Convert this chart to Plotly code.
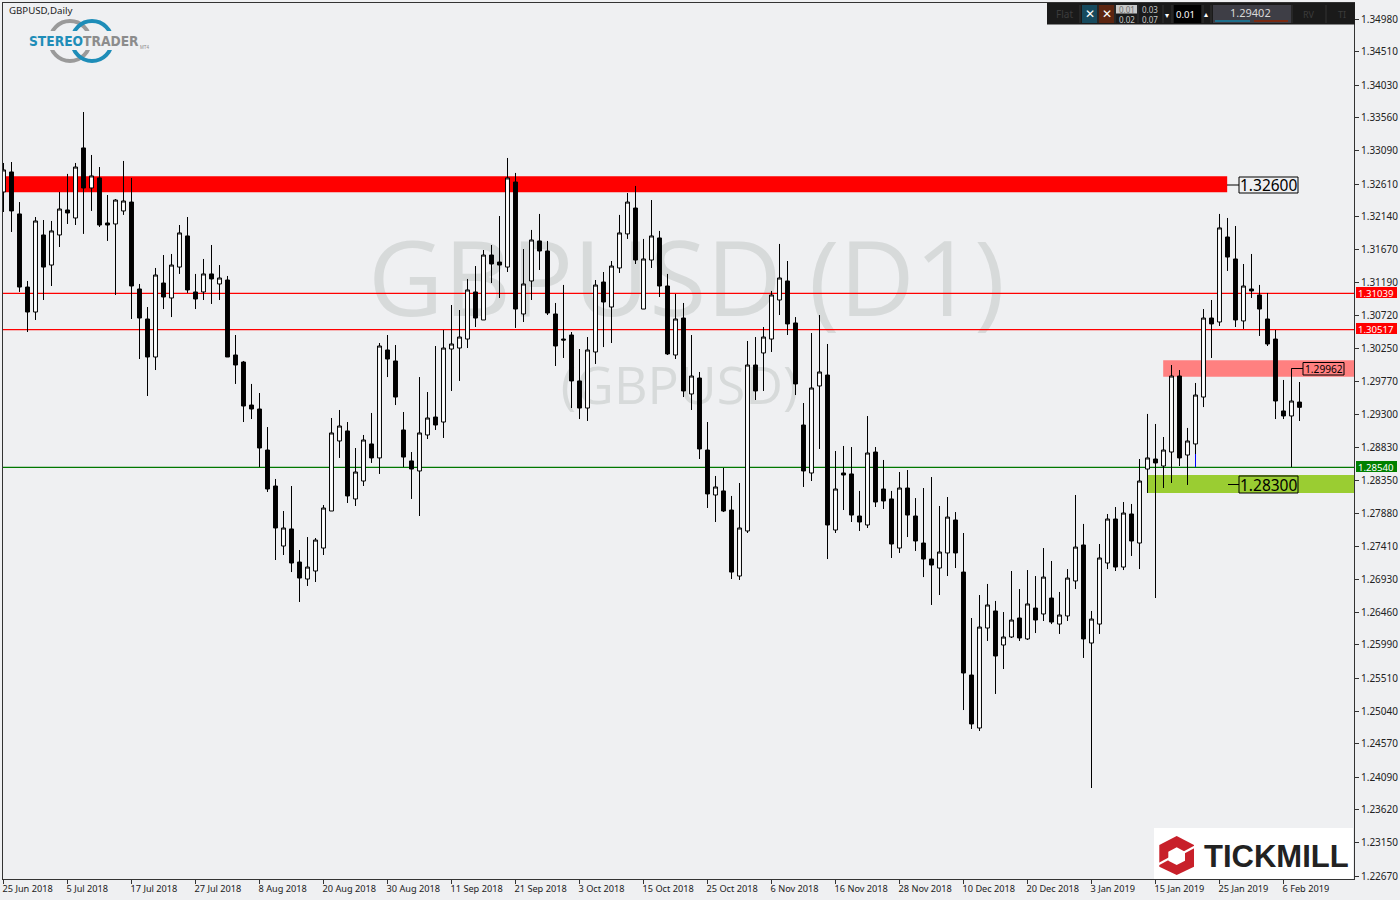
import plotly.graph_objects as go

opens = [1.32495,1.32783,1.32180,1.31130,1.30771,1.31878,1.31446,1.31878,1.32237,1.32122,
1.33128,1.32553,1.32697,1.32050,1.32036,1.32223,1.32351,1.31102,1.30671,1.30125,
1.31188,1.30973,1.31417,1.31864,1.31059,1.31059,1.31318,1.31174,1.31231,1.30154,
1.30053,1.29435,1.29378,1.28789,1.28272,1.27410,1.27655,1.27180,1.26936,1.27051,
1.27381,1.27913,1.28919,1.29063,1.28086,1.28344,1.28876,1.28675,1.30226,1.30068,
1.29077,1.28632,1.28488,1.29005,1.29263,1.29191,1.30240,1.30254,1.30383,1.31059,
1.30657,1.31590,1.31489,1.31417,1.32639,1.30743,1.31217,1.31792,1.31648,1.30743,
1.30383,1.30441,1.29781,1.29392,1.30197,1.31202,1.30843,1.31404,1.31893,1.32265,
1.30814,1.31518,1.31835,1.31145,1.30154,1.30685,1.29594,1.29823,1.28789,1.28143,
1.28201,1.27927,1.26979,1.27626,1.30010,1.30183,1.30383,1.30944,1.31217,1.30614,
1.29148,1.28459,1.29709,1.29866,1.27640,1.28459,1.28445,1.27841,1.27712,1.28760,
1.28229,1.28086,1.27381,1.28243,1.27841,1.27453,1.27223,1.27094,1.27310,1.27784,
1.27036,1.25557,1.24796,1.26232,1.26477,1.25988,1.26103,1.26376,1.26075,1.26519,
1.26434,1.26663,1.26289,1.26405,1.26908,1.27425,1.26017,1.26289,1.27166,1.27798,
1.27108,1.27870,1.27453,1.28516,1.28660,1.28559,1.28760,1.29852,1.28717,1.28876,
1.29550,1.30685,1.30628,1.31849,1.31533,1.30643,1.31102,1.31016,1.30671,1.30383,
1.29350,1.29278,1.29478]

highs = [1.32912,1.32926,1.32351,1.31217,1.32136,1.32093,1.32079,1.32495,1.32755,1.32912,
1.33644,1.33027,1.32854,1.32452,1.32394,1.32941,1.32697,1.31174,1.30843,1.31404,
1.31590,1.31605,1.32021,1.32136,1.31318,1.31533,1.31734,1.31446,1.31289,1.30441,
1.30068,1.29738,1.29608,1.29119,1.28373,1.27913,1.28272,1.27353,1.27539,1.27525,
1.27999,1.29249,1.29364,1.29191,1.28818,1.29005,1.29321,1.30326,1.30441,1.30297,
1.29335,1.28760,1.29837,1.29622,1.30283,1.30513,1.30872,1.30800,1.31246,1.31432,
1.31662,1.31734,1.32150,1.32984,1.32769,1.31676,1.31950,1.32180,1.31792,1.30901,
1.31160,1.30484,1.30240,1.30412,1.31231,1.31346,1.31504,1.32166,1.32481,1.32582,
1.31821,1.32380,1.31936,1.31318,1.31030,1.30901,1.30441,1.29910,1.29191,1.28416,
1.28531,1.28129,1.28315,1.30355,1.30412,1.30556,1.31074,1.31749,1.31504,1.30699,
1.29464,1.30470,1.30728,1.30312,1.28775,1.28847,1.28832,1.28201,1.29277,1.28832,
1.28646,1.28201,1.28473,1.28502,1.28099,1.28243,1.28401,1.27985,1.28114,1.27898,
1.27597,1.26376,1.26706,1.26865,1.26621,1.26462,1.27051,1.26792,1.27065,1.26979,
1.27381,1.27195,1.26750,1.27079,1.28143,1.27727,1.26477,1.27439,1.27870,1.27970,
1.28042,1.28014,1.28660,1.29307,1.29163,1.28976,1.30010,1.29938,1.29106,1.29752,
1.30814,1.30944,1.32180,1.32122,1.32007,1.31461,1.31605,1.31160,1.31045,1.30513,
1.29795,1.29962,1.29766]

lows = [1.32208,1.31921,1.31059,1.30484,1.30657,1.30944,1.31145,1.31705,1.32036,1.32021,
1.31893,1.32223,1.31993,1.31792,1.31016,1.32166,1.30671,1.30096,1.29565,1.29938,
1.30814,1.30699,1.31318,1.31045,1.30814,1.30944,1.30887,1.30944,1.30125,1.29738,
1.29191,1.29234,1.28545,1.28186,1.27209,1.27281,1.27036,1.26606,1.26836,1.26893,
1.27281,1.27913,1.28675,1.28028,1.27985,1.28272,1.28603,1.28445,1.29837,1.29435,
1.28545,1.28086,1.27841,1.28947,1.29077,1.28962,1.29637,1.29781,1.30254,1.30556,
1.30657,1.31188,1.30973,1.31346,1.30542,1.30628,1.30944,1.31375,1.30728,1.29996,
1.30111,1.29392,1.29234,1.29206,1.30025,1.30268,1.30326,1.31332,1.31821,1.31461,
1.30814,1.31404,1.30987,1.30154,1.30096,1.29550,1.29364,1.28660,1.27956,1.27755,
1.27898,1.26936,1.26922,1.27597,1.29507,1.29637,1.30197,1.30728,1.30441,1.29579,
1.28258,1.28344,1.28804,1.27223,1.27597,1.27927,1.27755,1.27626,1.27669,1.27970,
1.27942,1.27238,1.27310,1.27539,1.27339,1.26964,1.26563,1.26706,1.26979,1.27094,
1.25054,1.24782,1.24753,1.26046,1.25285,1.25643,1.26089,1.26046,1.26060,1.26160,
1.26333,1.26289,1.26147,1.26333,1.26792,1.25802,1.23934,1.26147,1.27079,1.27051,
1.27065,1.27267,1.27079,1.28172,1.26663,1.28243,1.28315,1.28559,1.28287,1.28545,
1.29406,1.30111,1.30571,1.31361,1.30556,1.30528,1.30973,1.30427,1.30283,1.29234,
1.29234,1.28545,1.29206]

closes = [1.32812,1.32223,1.31130,1.30771,1.32079,1.31417,1.31936,1.32251,1.32194,1.32854,
1.32553,1.32726,1.32021,1.32021,1.32380,1.32366,1.31145,1.30685,1.30125,1.31303,
1.30987,1.31446,1.31907,1.31088,1.30958,1.31318,1.31246,1.31260,1.30125,1.30010,
1.29421,1.29378,1.28818,1.28229,1.27669,1.27669,1.27166,1.26950,1.27108,1.27496,
1.27956,1.29034,1.29134,1.28129,1.28473,1.28933,1.28675,1.30283,1.30096,1.29550,
1.28688,1.28516,1.29034,1.29249,1.29148,1.30254,1.30312,1.30412,1.31088,1.30685,
1.31590,1.31461,1.31446,1.32697,1.30814,1.31174,1.31806,1.31648,1.30757,1.30283,
1.30369,1.29781,1.29392,1.30226,1.31159,1.30915,1.31432,1.31907,1.32351,1.31518,
1.31533,1.31864,1.31145,1.30169,1.30671,1.29637,1.29852,1.28804,1.28158,1.28258,
1.27913,1.27036,1.27669,1.30010,1.29637,1.30412,1.31016,1.31260,1.30600,1.29738,
1.28488,1.29680,1.29910,1.27712,1.28229,1.28430,1.27855,1.27755,1.28746,1.28042,
1.28057,1.27439,1.28243,1.27855,1.27482,1.27223,1.27137,1.27324,1.27826,1.27310,
1.25586,1.24854,1.26246,1.26563,1.25830,1.26103,1.26347,1.26089,1.26578,1.26347,
1.26964,1.26318,1.26419,1.26950,1.27395,1.26075,1.26361,1.27238,1.27798,1.27108,
1.27884,1.27482,1.28344,1.28675,1.28603,1.28789,1.29852,1.28675,1.28919,1.29579,
1.30685,1.30600,1.31979,1.31561,1.30657,1.31145,1.31074,1.30814,1.30312,1.29493,
1.29278,1.29493,1.29402]

date_labels = ["25 Jun 2018","5 Jul 2018","17 Jul 2018","27 Jul 2018","8 Aug 2018","20 Aug 2018","30 Aug 2018",
"11 Sep 2018","21 Sep 2018","3 Oct 2018","15 Oct 2018","25 Oct 2018","6 Nov 2018","16 Nov 2018","28 Nov 2018",
"10 Dec 2018","20 Dec 2018","3 Jan 2019","15 Jan 2019","25 Jan 2019","6 Feb 2019"]
price_ticks = [1.34980,1.34510,1.34030,1.33560,1.33090,1.32610,1.32140,1.31670,1.31190,1.30720,1.30250,1.29770,
1.29300,1.28830,1.28350,1.27880,1.27410,1.26930,1.26460,1.25990,1.25510,1.25040,1.24570,1.24090,1.23620,1.23150,1.22670]
red_levels = [1.31039, 1.30517]
green_level = 1.28540
red_zone = (1.3249, 1.3272)
pink_zone = (1.2984, 1.3008)
green_zone = (1.2817, 1.2843)

BG = "#EFF0F2"
L, T, R, B = 3, 3, 1354, 879
W, H = R - L, B - T
FONT = "Noto Sans"


def X(px):
    return (px - L) / W


def Y(py):
    return 1 - (py - T) / H


bars = list(range(len(opens)))
fig = go.Figure(go.Candlestick(
    x=bars, open=opens, high=highs, low=lows, close=closes,
    increasing=dict(line=dict(color="#000000", width=1), fillcolor="#FFFFFF"),
    decreasing=dict(line=dict(color="#000000", width=1), fillcolor="#000000"),
    whiskerwidth=0, hoverinfo="skip", showlegend=False))

shapes = []
annos = []


def rect(x0, y0, x1, y1, fill, line=None, layer="above"):
    shapes.append(dict(type="rect", xref="paper", yref="paper", x0=X(x0), x1=X(x1), y0=Y(y0), y1=Y(y1),
                       fillcolor=fill, line=dict(width=1 if line else 0, color=line or fill), layer=layer))


def seg(x0, y0, x1, y1, color, width=1, layer="above"):
    shapes.append(dict(type="line", xref="paper", yref="paper", x0=X(x0), x1=X(x1), y0=Y(y0), y1=Y(y1),
                       line=dict(color=color, width=width), layer=layer))


def poly(pts, fill):
    d = "M " + " L ".join(f"{X(a):.5f} {Y(b):.5f}" for a, b in pts) + " Z"
    shapes.append(dict(type="path", xref="paper", yref="paper", path=d, fillcolor=fill, line=dict(width=0), layer="above"))


def ring(cx, cy, r, color, width):
    shapes.append(dict(type="circle", xref="paper", yref="paper", x0=X(cx - r), x1=X(cx + r), y0=Y(cy + r), y1=Y(cy - r),
                       line=dict(color=color, width=width), layer="above"))


def text(px, py, s, size, color="#000000", family=FONT, anchor="center", **kw):
    annos.append(dict(xref="paper", yref="paper", x=X(px), y=Y(py), text=s, showarrow=False, xanchor=anchor,
                      yanchor="middle", font=dict(size=size, color=color, family=family), **kw))


def zone(x0, x1, band, fill):
    shapes.append(dict(type="rect", xref="x", yref="y", x0=x0, x1=x1, y0=band[0], y1=band[1],
                       fillcolor=fill, line=dict(width=0), layer="below"))


# watermark, behind the candles
for (x0, y0, x1, y1, s, size) in [(369, 222, 1004, 342, "GBPUSD (D1)", 104), (562, 355, 797, 420, "(GBPUSD)", 52)]:
    shapes.append(dict(type="rect", xref="paper", yref="paper", x0=X(x0), x1=X(x1), y0=Y(y1), y1=Y(y0),
                       line=dict(width=0), fillcolor="rgba(0,0,0,0)", layer="below",
                       label=dict(text=s, textposition="middle center",
                                  font=dict(size=size, color="#D7DADA", family="Open Sans"))))

zone(0.2, 152.96, red_zone, "#FF0000")
zone(144.96, 168.84, pink_zone, "#FF8080")
zone(143.0, 168.84, green_zone, "#9ACD32")
for lv in red_levels:
    shapes.append(dict(type="line", xref="paper", yref="y", x0=0, x1=1, y0=lv, y1=lv,
                       line=dict(color="#FF0000", width=1.2), layer="below"))
shapes.append(dict(type="line", xref="paper", yref="y", x0=0, x1=1, y0=green_level, y1=green_level,
                   line=dict(color="#007800", width=1.2), layer="below"))

# level call-outs
seg(1227, 185, 1239, 185, "#000000")
seg(1228, 484.5, 1239, 484.5, "#000000")
seg(1291.5, 368.5, 1303, 368.5, "#000000")
seg(1195.5, 454, 1195.5, 467, "#0000FF")
rect(1239, 177, 1298, 193, BG, "#000000")
rect(1239, 476, 1298, 493, "#9ACD32", "#000000")
rect(1303, 362.5, 1344, 375, "#FF8080", "#000000")
text(1268.5, 185, "1.32600", 15.5)
text(1268.5, 484.5, "1.28300", 15.5)
text(1323.5, 368.5, "1.29962", 10.2)

# price tags
for py0, py1, s, col in [(287, 298, "1.31039", "#FF0000"), (323, 334, "1.30517", "#FF0000"), (461, 472, "1.28540", "#008000")]:
    rect(1356, py0, 1397, py1, col)
    text(1376.5, (py0 + py1) / 2 + 0.5, s, 9.6, "#FFFFFF")

text(7, 10.5, "GBPUSD,Daily", 9.7, "#222222", anchor="left")

# StereoTrader logo
ring(70, 41, 20, "#9A9A9A", 4)
ring(92, 41, 20, "#1E8DB8", 4)
rect(26, 31, 150, 50, BG)
text(26.5, 41, '<b><span style="color:#1E8DB8">STEREO</span><span style="color:#8C8C8C">TRADER</span></b>', 13.7,
     family="DejaVu Sans Condensed, Liberation Sans", anchor="left")
text(144.5, 48, "MT4", 4.5, "#8C8C8C", family="Liberation Sans")

# toolbar
rect(1047, 3, 1355, 24.5, "#1A1A1A")
rect(1082, 5, 1097, 23, "#164A5E")
rect(1099, 5, 1114, 23, "#5C2510")
rect(1116, 5, 1137, 13.5, "#C8C8C8")
rect(1174, 5, 1201, 23, "#000000")
rect(1213, 5, 1291, 23, "#3E3E46")
rect(1215, 20, 1250, 22, "#1E6F8C")
rect(1254, 20, 1288, 22, "#7A2A12")
for xs in (1080, 1098, 1115, 1138, 1163, 1172, 1203, 1211, 1292, 1326):
    seg(xs, 5, xs, 23, "#333333")
text(1064, 14, "Flat", 10, "#3C3C3C")
text(1089.5, 14, "✕", 12, "#FFFFFF", family="DejaVu Sans")
text(1106.5, 14, "✕", 12, "#FFFFFF", family="DejaVu Sans")
text(1126.5, 9, "0.01", 8, "#707070")
text(1149.5, 9, "0.03", 8, "#C8C8C8")
text(1126.5, 19.5, "0.02", 8, "#C8C8C8")
text(1149.5, 19.5, "0.07", 8, "#C8C8C8")
text(1167, 15, "▾", 8, "#FFFFFF", family="DejaVu Sans")
text(1185, 14.5, "0.01", 9.5, "#FFFFFF")
text(1206, 14, "▴", 8, "#FFFFFF", family="DejaVu Sans")
text(1250, 13, "1.29402", 11, "#D8D8D8")
text(1309, 14, "RV", 9, "#3C3C3C")
text(1342, 14, "TI", 9, "#3C3C3C")

# Tickmill logo
rect(1154, 828, 1353, 879, "#FFFFFF")
poly([(1176.7, 836), (1194, 845), (1194, 866.7), (1176.7, 875), (1159.3, 866.7), (1159.3, 845)], "#C8202A")
poly([(1176.7, 847.3), (1185, 851.7), (1185, 860.7), (1176.7, 865), (1168.3, 860.7), (1168.3, 851.7)], "#FFFFFF")
seg(1183, 853, 1196, 846, "#FFFFFF", 2)
seg(1157, 865, 1170, 858, "#FFFFFF", 2)
text(1201.5, 856.5, "<b>TICKMILL</b>", 31, "#222222", family="Liberation Sans", anchor="left")

fig.update_layout(
    width=1400, height=900, autosize=False,
    margin=dict(l=L, r=1400 - R, t=T, b=900 - B, pad=0),
    paper_bgcolor=BG, plot_bgcolor=BG, showlegend=False,
    shapes=shapes, annotations=annos,
    xaxis=dict(range=[-0.0625, 168.8125], rangeslider=dict(visible=False), showgrid=False, zeroline=False,
               automargin=False, tickangle=0,
               tickmode="array", tickvals=bars[::8], ticktext=date_labels, ticks="outside", ticklen=4,
               tickcolor="#333333", ticklabelposition="outside right", ticklabelshift=-2, ticklabelstandoff=1,
               tickfont=dict(family=FONT, size=9.2, color="#222222"),
               showline=True, mirror=True, linecolor="#333333", linewidth=1),
    yaxis=dict(range=[1.22627, 1.3521], side="right", showgrid=False, zeroline=False, automargin=False,
               tickmode="array", tickvals=price_ticks, ticktext=[f"{v:.5f}" for v in price_ticks],
               ticks="outside", ticklen=4, tickcolor="#333333",
               tickfont=dict(family=FONT, size=10, color="#222222"),
               showline=True, mirror=True, linecolor="#333333", linewidth=1),
)
fig.write_html("out.html", config=dict(displayModeBar=False),
               post_script="document.body.style.margin='0';")
